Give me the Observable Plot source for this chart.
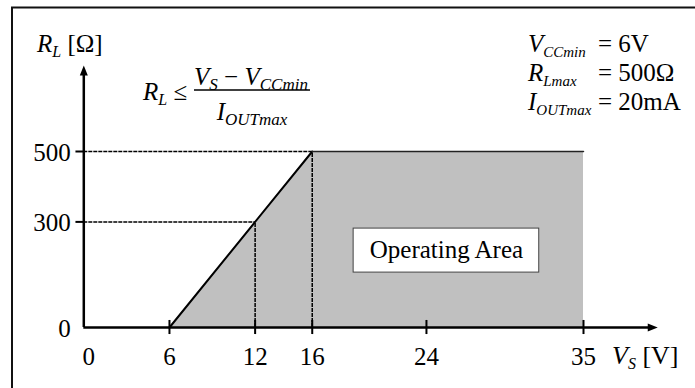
<!DOCTYPE html>
<html><head><meta charset="utf-8">
<script src="https://cdn.jsdelivr.net/npm/d3@7"></script>
<script src="https://cdn.jsdelivr.net/npm/@observablehq/plot@0.6"></script>
<style>body{margin:0;background:#fff}#chart{width:695px;height:388px;overflow:hidden}svg text{white-space:pre}</style>
</head><body><div id="chart"></div>
<script>
// ---- data ----
const xTicks = [0, 6, 12, 16, 24, 35];
const yTickMarks = [300, 500];
const yTickLabels = [0, 300, 500];
const boundaryVs = [6, 16, 35];
const boundaryRl = [0, 500, 500];
const guideVs = [12, 16];
const guideRl = [300, 500];
const xAxisEnd = 40.2;
const yAxisEnd = 744;
const areaLabel = "Operating Area";
const areaBox = {x1: 18.9, x2: 31.9, y1: 156, y2: 281, cx: 25.4, cy: 219};

const region = boundaryVs.map((v, i) => ({vs: v, rl: boundaryRl[i]}));
const guides = guideVs.map((v, i) => ({vs: v, rl: guideRl[i]}));

const arrowSymbol = {draw(ctx) { ctx.moveTo(0, 0); ctx.lineTo(-10, -4); ctx.lineTo(-10, 4); ctx.closePath(); }};
const serif = "Liberation Serif";

const plot = Plot.plot({
  width: 695, height: 388,
  x: {domain: [0, 35], range: [83.3, 583], axis: null},
  y: {domain: [0, 500], range: [327, 151], axis: null},
  style: {fontFamily: serif, fontSize: "25px", background: "white"},
  marks: [
    Plot.areaY(region, {x: "vs", y: "rl", fill: "#c0c0c0"}),
    Plot.ruleY(guides, {y: "rl", x1: 0, x2: "vs", stroke: "black", strokeWidth: 1.5, strokeDasharray: "4,1"}),
    Plot.ruleX(guides, {x: "vs", y1: 0, y2: "rl", stroke: "black", strokeWidth: 1.5, strokeDasharray: "4,1"}),
    Plot.line(region.slice(0, 2), {x: "vs", y: "rl", stroke: "black", strokeWidth: 2}),
    Plot.line(region.slice(1), {x: "vs", y: "rl", stroke: "#222", strokeWidth: 1.5}),
    // axes
    Plot.ruleY([0], {x1: 0, x2: xAxisEnd - 0.4, stroke: "black", strokeWidth: 2.5}),
    Plot.ruleX([0], {y1: 0, y2: yAxisEnd - 15, stroke: "black", strokeWidth: 2.5}),
    Plot.dot([{x: xAxisEnd, y: 0}], {x: "x", y: "y", symbol: arrowSymbol, r: 4, fill: "black", stroke: "none"}),
    Plot.dot([{x: 0, y: yAxisEnd}], {x: "x", y: "y", symbol: arrowSymbol, r: 4, rotate: -90, fill: "black", stroke: "none"}),
    // ticks
    Plot.ruleX(xTicks.filter(d => d > 0), {x: d => d, y1: -20, y2: 20, stroke: "black", strokeWidth: 2}),
    Plot.ruleY(yTickMarks, {y: d => d, x1: -0.55, x2: 0, stroke: "black", strokeWidth: 2}),
    // tick labels
    Plot.text(xTicks.filter(d => d > 0), {x: d => d, y: 0, dy: 29, text: d => String(d), fontSize: 25, fill: "black"}),
    Plot.text([0], {x: d => d, y: 0, dy: 29, dx: 5, text: d => String(d), fontSize: 25, fill: "black"}),
    Plot.text(yTickLabels, {x: 0, y: d => d, dx: -13, dy: 1, textAnchor: "end", text: d => String(d), fontSize: 25, fill: "black"}),
    // operating area box
    Plot.rect([areaBox], {x1: "x1", x2: "x2", y1: "y1", y2: "y2", fill: "white", stroke: "#444", strokeWidth: 1}),
    Plot.text([areaBox], {x: "cx", y: "cy", text: () => areaLabel, fontSize: 25, fill: "black"})
  ]
});
document.getElementById("chart").append(plot);

// ---- rich text annotations ----
const svg = d3.select(plot);
svg.append("path").attr("d", "M12,388V7.5H695").attr("fill", "none").attr("stroke", "#111").attr("stroke-width", 2);
const g = svg.append("g").attr("fill", "black").attr("font-family", serif);
function rich(x, y, parts, anchor = "start", big = 25, small = 16) {
  const t = g.append("text").attr("x", x).attr("y", y).attr("text-anchor", anchor);
  let shift = 0;
  for (const [s, kind] of parts) {
    const target = kind === "sub" ? 5 : 0;
    t.append("tspan").text(s).attr("dy", target - shift)
      .attr("font-size", kind === "sub" ? small : big)
      .attr("font-style", kind === "n" ? "normal" : "italic");
    shift = target;
  }
}
rich(37, 52, [["R", "i"], ["L", "sub"], [" [Ω]", "n"]], "start", 25, 16);
rich(143, 100, [["R", "i"], ["L", "sub"], [" ≤", "n"]], "start", 25, 16);
rich(251, 85, [["V", "i"], ["S", "sub"], [" − ", "n"], ["V", "i"], ["CCmin", "sub"]], "middle", 25, 17);
g.append("line").attr("x1", 194).attr("x2", 310).attr("y1", 90).attr("y2", 90).attr("stroke", "black").attr("stroke-width", 1.3);
rich(252, 120, [["I", "i"], ["OUTmax", "sub"]], "middle", 25, 17);
rich(612, 364, [["V", "i"], ["S", "sub"], [" [V]", "n"]], "start", 26, 16);
const params = [
  {sym: "V", sub: "CCmin", val: "= 6V", y: 52},
  {sym: "R", sub: "Lmax", val: "= 500Ω", y: 81},
  {sym: "I", sub: "OUTmax", val: "= 20mA", y: 110}
];
for (const p of params) {
  rich(528, p.y, [[p.sym, "i"], [p.sub, "sub"]], "start", 25, 15);
  rich(598, p.y, [[p.val, "n"]], "start", 25);
}
</script></body></html>
